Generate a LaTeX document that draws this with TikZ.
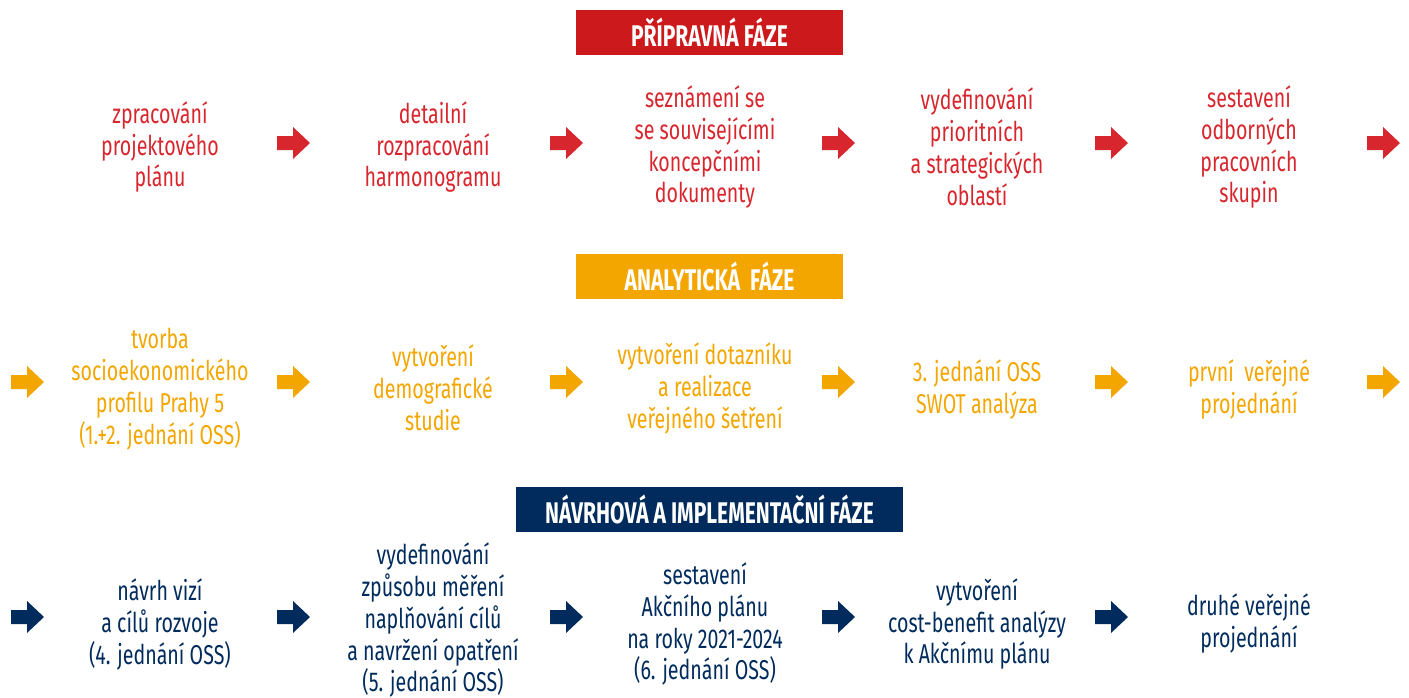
\documentclass[tikz,border=0pt]{standalone}
\usepackage{fontspec}
\setmainfont{Fira Sans}[FakeStretch=0.72]
\newfontfamily\headfont{Fira Sans}[FakeStretch=0.705]
\usetikzlibrary{positioning}
\definecolor{fazered}{HTML}{CC1A1C}
\definecolor{txtred}{HTML}{D7262D}
\definecolor{fazeorange}{HTML}{F3A600}
\definecolor{fazenavy}{HTML}{002B5C}
\tikzset{
  % fáze (nadpis)
  faze/.style={fill=#1,text=white,font=\headfont\bfseries\fontsize{17}{18}\selectfont,
    inner sep=0pt,minimum height=45*0.02cm},
  % krok
  krok/.style={text=#1,align=center,inner sep=0pt,
    font=\fontsize{15.5}{18.2}\selectfont},
  % šipka
  sipka/.pic={\fill[#1] (-16,-7) -- (0,-7) -- (0,-16) -- (17,0) -- (0,16) -- (0,7) -- (-16,7) -- cycle;}
}
\begin{document}
\begin{tikzpicture}[x=0.02cm,y=-0.02cm]
  \useasboundingbox (0,0) rectangle (1409,697);

  %--- přípravná fáze
  \node[faze=fazered,minimum width=267*0.02cm] (f1) at (709.5,32.5) {PŘÍPRAVNÁ FÁZE};
  \node[krok=txtred] (a1) at (160,147) {zpracování\\projektového\\plánu};
  \node[krok=txtred] (a2) at (433,147) {detailní\\rozpracování\\harmonogramu};
  \node[krok=txtred] (a3) at (705,147) {seznámení se\\se souvisejícími\\koncepčními\\dokumenty};
  \node[krok=txtred] (a4) at (977,147) {vydefinování\\prioritních\\a strategických\\oblastí};
  \node[krok=txtred] (a5) at (1249,147) {sestavení\\odborných\\pracovních\\skupin};
  \foreach \x in {293,566,838,1111,1383}
    \pic at (\x,143) {sipka=txtred};

  %--- analytická fáze
  \node[faze=fazeorange,minimum width=267*0.02cm] (f2) at (709.5,276.5) {ANALYTICKÁ~~FÁZE};
  \node[krok=fazeorange] (b1) at (160,389) {tvorba\\socioekonomického\\profilu Prahy 5\\(1.+2. jednání OSS)};
  \node[krok=fazeorange] (b2) at (433,388) {vytvoření\\demografické\\studie};
  \node[krok=fazeorange] (b3) at (705,388) {vytvoření dotazníku\\a realizace\\veřejného šetření};
  \node[krok=fazeorange] (b4) at (977,389) {3. jednání OSS\\SWOT analýza};
  \node[krok=fazeorange] (b5) at (1249,389) {první~~veřejné\\projednání};
  \foreach \x in {27,293,566,838,1111,1383}
    \pic at (\x,382) {sipka=fazeorange};

  %--- návrhová a implementační fáze
  \node[faze=fazenavy,minimum width=387*0.02cm] (f3) at (709.5,509.5) {NÁVRHOVÁ A IMPLEMENTAČNÍ FÁZE};
  \node[krok=fazenavy] (c1) at (160,624) {návrh vizí\\a cílů rozvoje\\(4. jednání OSS)};
  \node[krok=fazenavy] (c2) at (433,620) {vydefinování\\způsobu měření\\naplňování cílů\\a navržení opatření\\(5. jednání OSS)};
  \node[krok=fazenavy] (c3) at (705,624) {sestavení\\Akčního plánu\\na roky 2021-2024\\(6. jednání OSS)};
  \node[krok=fazenavy] (c4) at (977,624) {vytvoření\\cost-benefit analýzy\\k Akčnímu plánu};
  \node[krok=fazenavy] (c5) at (1249,623) {druhé veřejné\\projednání};
  \foreach \x in {27,293,566,838,1111}
    \pic at (\x,617) {sipka=fazenavy};
\end{tikzpicture}
\end{document}
